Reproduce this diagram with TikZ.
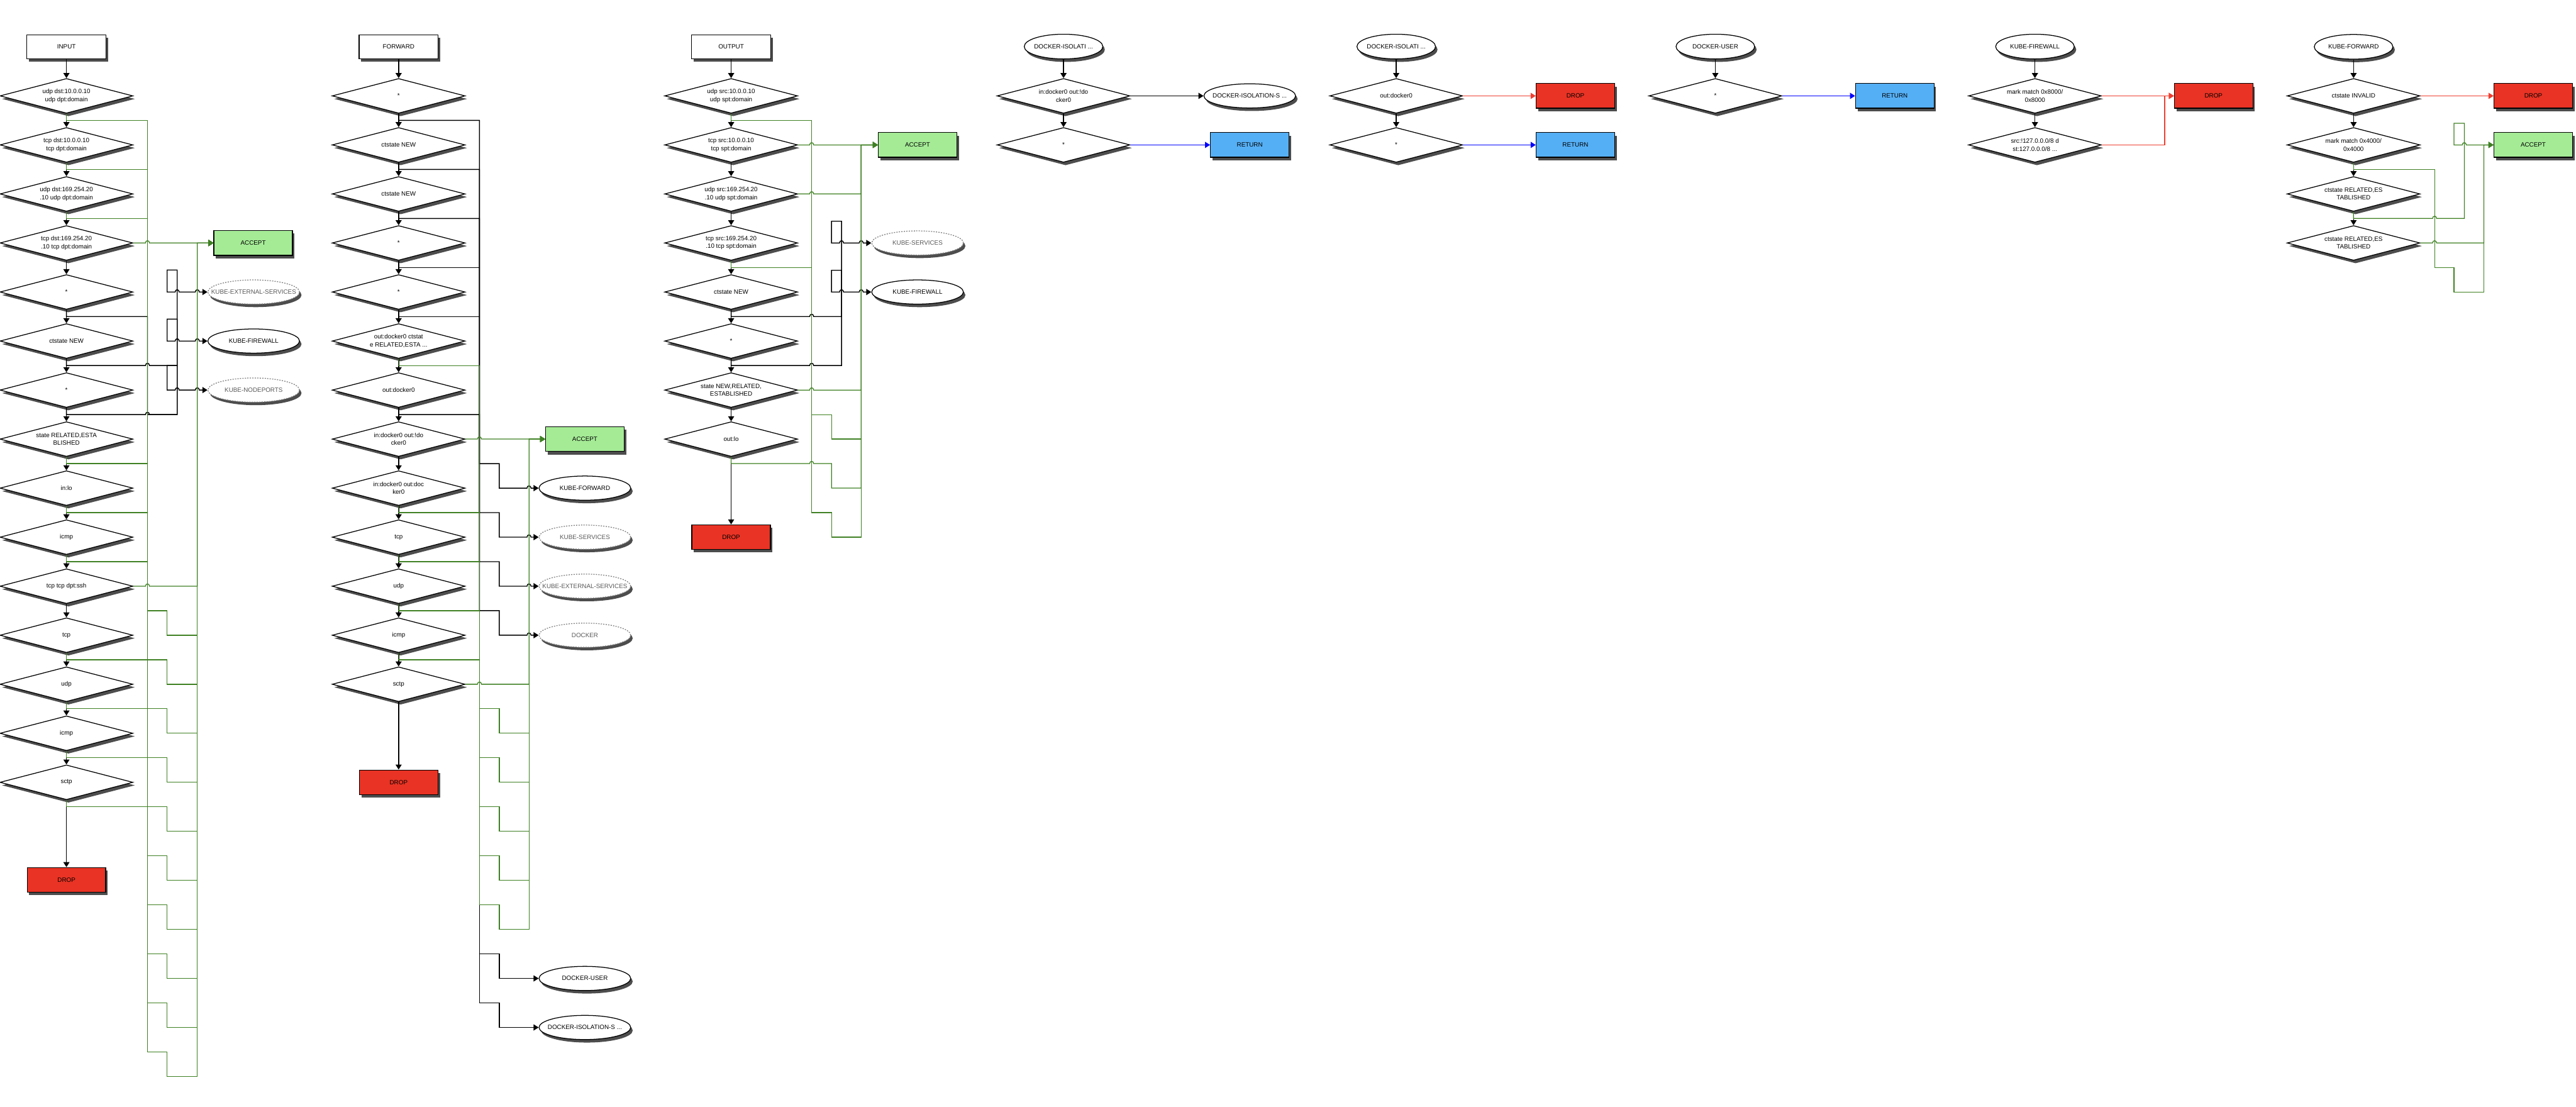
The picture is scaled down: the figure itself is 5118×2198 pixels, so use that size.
\documentclass[tikz,border=0pt]{standalone}
\usepackage{fontspec}
\setmainfont{Liberation Sans}
\usetikzlibrary{shapes,arrows.meta,shadows}

\definecolor{accgreen}{RGB}{62,128,34}
\definecolor{accfill}{RGB}{165,235,150}
\definecolor{dropfill}{RGB}{233,51,36}
\definecolor{retfill}{RGB}{85,175,245}
\definecolor{redline}{RGB}{240,62,48}
\definecolor{shade}{RGB}{77,77,77}

\newcommand{\tgname}[1]{\makebox[0pt]{#1}}

\tikzset{
  base/.style={draw, line width=0.45pt, inner sep=0pt, align=center,
    font=\fontsize{3.5}{4.4}\selectfont,
    drop shadow={shadow xshift=0.04cm, shadow yshift=-0.06cm, fill=shade, opacity=1}},
  ruledia/.style={base, diamond, fill=white, aspect=3.8, minimum width=2.64cm, minimum height=0.69cm},
  chainbox/.style={base, rectangle, fill=white, minimum width=1.57cm, minimum height=0.48cm},
  headell/.style={base, ellipse, fill=white, minimum width=1.56cm, minimum height=0.49cm},
  tgtell/.style={base, ellipse, fill=white, minimum width=1.82cm, minimum height=0.48cm},
  tgtdash/.style={tgtell, draw=black!50, dash pattern=on 0.7pt off 0.7pt, text=black!65},
  acceptbox/.style={base, rectangle, fill=accfill, minimum width=1.56cm, minimum height=0.49cm},
  dropbox/.style={base, rectangle, fill=dropfill, minimum width=1.56cm, minimum height=0.49cm},
  returnbox/.style={base, rectangle, fill=retfill, minimum width=1.56cm, minimum height=0.49cm},
  flow/.style={draw, line width=0.5pt, -{Triangle[length=0.1cm,width=0.12cm]}},
  hitarrow/.style={draw=accgreen, line width=0.45pt, -{Triangle[length=0.1cm,width=0.12cm]}},
  jmp/.style 2 args={insert path={-- (#1-4,#2) .. controls (#1-4,#2-6) and (#1+4,#2-6) .. (#1+4,#2)}},
}

\begin{document}
\begin{tikzpicture}[x=0.01cm, y=-0.01cm]
	\useasboundingbox (0,0) rectangle (5118,2198);
	
	% INPUT chain
	\def\cx{132} % column x
	\node[chainbox] (in0) at (\cx,93) {INPUT};
	\foreach \t [count=\i] in {{udp dst:10.0.0.10\\udp dpt:domain},{tcp dst:10.0.0.10\\tcp dpt:domain},
		{udp dst:169.254.20\\.10 udp dpt:domain},{tcp dst:169.254.20\\.10 tcp dpt:domain},{*},{ctstate NEW},{*},
		{state RELATED,ESTA\\BLISHED},{in:lo},{icmp},{tcp tcp dpt:ssh},{tcp},{udp},{icmp},{sctp}}
		\node[ruledia] (in\i) at (\cx,{190.5+(\i-1)*97.4}) {\t};
	\node[dropbox] (dropin) at (\cx,1748) {DROP};
	\node[acceptbox] (accin) at (503,482.7) {ACCEPT};
	\node[tgtdash] (kesin) at (504,580.1) {\tgname{KUBE-EXTERNAL-SERVICES}};
	\node[tgtell] (kfwin) at (504,677.5) {\tgname{KUBE-FIREWALL}};
	\node[tgtdash] (knpin) at (504,774.9) {\tgname{KUBE-NODEPORTS}};
	
	\foreach \i [remember=\i as \j (initially 0)] in {1,...,15}
		\draw[flow] (in\j) -- (in\i);
	\draw[flow] (in15) -- (dropin);
	
	% jumps to the KUBE chains
	\draw[flow] (in5.south) -- (\cx,628.8) -- (293,628.8) -- (293,823.6) -- (352,823.6) -- (352,536.4) -- (332,536.4)
		-- (332,580.1) [jmp={352}{580.1}] [jmp={392}{580.1}] -- (kesin.west);
	\draw[flow] (in6.south) -- (\cx,726.2) [jmp={293}{726.2}] -- (352,726.2) -- (352,634) -- (332,634)
		-- (332,677.5) [jmp={352}{677.5}] [jmp={392}{677.5}] -- (kfwin.west);
	\draw[flow] (in7.south) -- (\cx,823.6) [jmp={293}{823.6}] -- (352,823.6) -- (352,726.2) -- (332,726.2)
		-- (332,774.9) [jmp={352}{774.9}] [jmp={392}{774.9}] -- (knpin.west);
	
	% matches to ACCEPT
	\foreach \k/\j in {1/11,2/12,3/13,8/14,9/15,10/16,12/17,13/18,14/19,15/20}
		\draw[hitarrow] (in\k.south) -- (\cx,{239.2+(\k-1)*97.4}) -- (293,{239.2+(\k-1)*97.4})
			-- (293,{239.2+(\j-1)*97.4}) -- (332,{239.2+(\j-1)*97.4}) -- (332,{190.5+\j*97.4})
			-- (392,{190.5+\j*97.4}) |- (accin.west);
	\draw[hitarrow] (in4.east) [jmp={293}{482.7}] -- (accin.west);
	\draw[hitarrow] (in11.east) [jmp={293}{1164.5}] -- (392,1164.5) |- (accin.west);
	
	% FORWARD chain
	\def\cx{792}
	\node[chainbox] (fw0) at (\cx,93) {FORWARD};
	\foreach \t [count=\i] in {{*},{ctstate NEW},{ctstate NEW},{*},{*},{out:docker0 ctstat\\e RELATED,ESTA .{}.{}.},
		{out:docker0},{in:docker0 out:!do\\cker0},{in:docker0 out:doc\\ker0},{tcp},{udp},{icmp},{sctp}}
		\node[ruledia] (fw\i) at (\cx,{190.5+(\i-1)*97.4}) {\t};
	\node[dropbox] (dropfw) at (\cx,1554.1) {DROP};
	\node[acceptbox] (accfw) at (1162,872.3) {ACCEPT};
	\node[tgtell] (kfdfw) at (1162,969.7) {\tgname{KUBE-FORWARD}};
	\node[tgtdash] (ksvfw) at (1162,1067.1) {\tgname{KUBE-SERVICES}};
	\node[tgtdash] (kesfw) at (1162,1164.5) {\tgname{KUBE-EXTERNAL-SERVICES}};
	\node[tgtdash] (dckfw) at (1162,1261.9) {\tgname{DOCKER}};
	\node[tgtell] (dusfw) at (1162,1943.7) {\tgname{DOCKER-USER}};
	\node[tgtell] (disfw) at (1162,2041.1) {\tgname{DOCKER-ISOLATION-S ...}};
	
	\foreach \i [remember=\i as \j (initially 0)] in {1,...,13}
		\draw[flow] (fw\j) -- (fw\i);
	\draw[flow] (fw13) -- (dropfw);
	
	\foreach \k/\t/\m in {1/kfdfw/8,2/ksvfw/9,3/kesfw/10,7/dckfw/11}
		\draw[flow] (fw\k.south) -- (\cx,{239.2+(\k-1)*97.4}) -- (952.6,{239.2+(\k-1)*97.4})
			-- (952.6,{239.2+(\m-1)*97.4}) -- (992,{239.2+(\m-1)*97.4}) -- (992,{190.5+\m*97.4})
			[jmp={1051}{190.5+\m*97.4}] -- (\t.west);
	\foreach \k/\t/\m in {4/dusfw/18,5/disfw/19}
		\draw[flow] (fw\k.south) -- (\cx,{239.2+(\k-1)*97.4}) -- (952.6,{239.2+(\k-1)*97.4})
			-- (952.6,{239.2+(\m-1)*97.4}) -- (992,{239.2+(\m-1)*97.4}) |- (\t.west);
	
	\foreach \k/\j in {6/13,9/14,10/15,11/16,12/17}
		\draw[hitarrow] (fw\k.south) -- (\cx,{239.2+(\k-1)*97.4}) -- (952.6,{239.2+(\k-1)*97.4})
			-- (952.6,{239.2+(\j-1)*97.4}) -- (992,{239.2+(\j-1)*97.4}) -- (992,{190.5+\j*97.4})
			-- (1051,{190.5+\j*97.4}) |- (accfw.west);
	\draw[hitarrow] (fw8.east) [jmp={952.6}{872.3}] -- (accfw.west);
	\draw[hitarrow] (fw13.east) [jmp={952.6}{1359.3}] -- (1051,1359.3) |- (accfw.west);
	
	% OUTPUT chain
	\def\cx{1452.6}
	\node[chainbox] (out0) at (\cx,93) {OUTPUT};
	\foreach \t [count=\i] in {{udp src:10.0.0.10\\udp spt:domain},{tcp src:10.0.0.10\\tcp spt:domain},
		{udp src:169.254.20\\.10 udp spt:domain},{tcp src:169.254.20\\.10 tcp spt:domain},{ctstate NEW},{*},
		{state NEW,RELATED,\\ESTABLISHED},{out:lo}}
		\node[ruledia] (out\i) at (\cx,{190.5+(\i-1)*97.4}) {\t};
	\node[dropbox] (dropout) at (\cx,1067.1) {DROP};
	\node[acceptbox] (accout) at (1823,287.9) {ACCEPT};
	\node[tgtdash] (ksvout) at (1823,482.7) {\tgname{KUBE-SERVICES}};
	\node[tgtell] (kfwout) at (1823,580.1) {\tgname{KUBE-FIREWALL}};
	
	\foreach \i [remember=\i as \j (initially 0)] in {1,...,8}
		\draw[flow] (out\j) -- (out\i);
	\draw[flow] (out8) -- (dropout);
	
	\draw[flow] (out5.south) -- (\cx,628.8) [jmp={1612.6}{628.8}] -- (1672,628.8) -- (1672,439.5) -- (1652,439.5)
		-- (1652,482.7) [jmp={1672}{482.7}] [jmp={1711}{482.7}] -- (ksvout.west);
	\draw[flow] (out6.south) -- (\cx,726.2) [jmp={1612.6}{726.2}] -- (1672,726.2) -- (1672,537) -- (1652,537)
		-- (1652,580.1) [jmp={1672}{580.1}] [jmp={1711}{580.1}] -- (kfwout.west);
	
	\draw[hitarrow] (out1.south) -- (\cx,239.2) -- (1612.6,239.2) -- (1612.6,823.6) -- (1652,823.6)
		-- (1652,872.3) -- (1711,872.3) |- (accout.west);
	\draw[hitarrow] (out4.south) -- (\cx,531.4) -- (1612.6,531.4) -- (1612.6,1018.4) -- (1652,1018.4)
		-- (1652,1067.1) -- (1711,1067.1) |- (accout.west);
	\draw[hitarrow] (out2.east) [jmp={1612.6}{287.9}] -- (accout.west);
	\draw[hitarrow] (out3.east) [jmp={1612.6}{385.3}] -- (1711,385.3) |- (accout.west);
	\draw[hitarrow] (out7.east) [jmp={1612.6}{774.9}] -- (1711,774.9) |- (accout.west);
	\draw[hitarrow] (out8.south) -- (\cx,921) [jmp={1612.6}{921}] -- (1652,921) -- (1652,969.7)
		-- (1711,969.7) |- (accout.west);
	
	% DOCKER-ISOLATION stage 1
	\def\cx{2113}
	\node[headell] (di0) at (\cx,92.5) {\tgname{DOCKER-ISOLATI ...}};
	\node[ruledia] (di1) at (\cx,190.5) {in:docker0 out:!do\\cker0};
	\node[ruledia] (di2) at (\cx,287.9) {*};
	\node[tgtell] (disdi) at (2483,190.5) {\tgname{DOCKER-ISOLATION-S ...}};
	\node[returnbox] (retdi) at (2483,287.9) {RETURN};
	\draw[flow] (di0) -- (di1);
	\draw[flow] (di1) -- (di2);
	\draw[flow] (di1.east) -- (disdi.west);
	\draw[flow, draw=blue] (di2.east) -- (retdi.west);
	
	% DOCKER-ISOLATION stage 2
	\def\cx{2774}
	\node[headell] (dj0) at (\cx,92.5) {\tgname{DOCKER-ISOLATI ...}};
	\node[ruledia] (dj1) at (\cx,190.5) {out:docker0};
	\node[ruledia] (dj2) at (\cx,287.9) {*};
	\node[dropbox] (dropdj) at (3130,190.5) {DROP};
	\node[returnbox] (retdj) at (3130,287.9) {RETURN};
	\draw[flow] (dj0) -- (dj1);
	\draw[flow] (dj1) -- (dj2);
	\draw[flow, draw=redline] (dj1.east) -- (dropdj.west);
	\draw[flow, draw=blue] (dj2.east) -- (retdj.west);
	
	% DOCKER-USER
	\def\cx{3408}
	\node[headell] (du0) at (\cx,92.5) {\tgname{DOCKER-USER}};
	\node[ruledia] (du1) at (\cx,190.5) {*};
	\node[returnbox] (retdu) at (3764.5,190.5) {RETURN};
	\draw[flow] (du0) -- (du1);
	\draw[flow, draw=blue] (du1.east) -- (retdu.west);
	
	% KUBE-FIREWALL
	\def\cx{4043}
	\node[headell] (kf0) at (\cx,92.5) {\tgname{KUBE-FIREWALL}};
	\node[ruledia] (kf1) at (\cx,190.5) {mark match 0x8000/\\0x8000};
	\node[ruledia] (kf2) at (\cx,287.9) {src:!127.0.0.0/8 d\\st:127.0.0.0/8 ...};
	\node[dropbox] (dropkf) at (4398,190.5) {DROP};
	\draw[flow] (kf0) -- (kf1);
	\draw[flow] (kf1) -- (kf2);
	\draw[flow, draw=redline] (kf1.east) -- (dropkf.west);
	\draw[flow, draw=redline] (kf2.east) -- (4301,287.9) |- (dropkf.west);
	
	% KUBE-FORWARD
	\def\cx{4676}
	\node[headell] (kd0) at (\cx,93) {\tgname{KUBE-FORWARD}};
	\node[ruledia] (kd1) at (\cx,190.5) {ctstate INVALID};
	\node[ruledia] (kd2) at (\cx,287.9) {mark match 0x4000/\\0x4000};
	\node[ruledia] (kd3) at (\cx,385.3) {ctstate RELATED,ES\\TABLISHED};
	\node[ruledia] (kd4) at (\cx,482.7) {ctstate RELATED,ES\\TABLISHED};
	\node[dropbox] (dropkd) at (5033,190.5) {DROP};
	\node[acceptbox] (acckd) at (5033,287.9) {ACCEPT};
	\foreach \i [remember=\i as \j (initially 0)] in {1,...,4}
		\draw[flow] (kd\j) -- (kd\i);
	\draw[flow, draw=redline] (kd1.east) -- (dropkd.west);
	\draw[hitarrow] (kd2.south) -- (\cx,336.6) -- (4837,336.6) -- (4837,531.4) -- (4875.6,531.4)
		-- (4875.6,580.1) -- (4935,580.1) |- (acckd.west);
	\draw[hitarrow] (kd3.south) -- (\cx,434) [jmp={4837}{434}] -- (4896,434) -- (4896,245) -- (4875.6,245)
		-- (4875.6,287.9) [jmp={4896}{287.9}] -- (acckd.west);
	\draw[hitarrow] (kd4.east) [jmp={4837}{482.7}] -- (4935,482.7) |- (acckd.west);
\end{tikzpicture}
\end{document}
